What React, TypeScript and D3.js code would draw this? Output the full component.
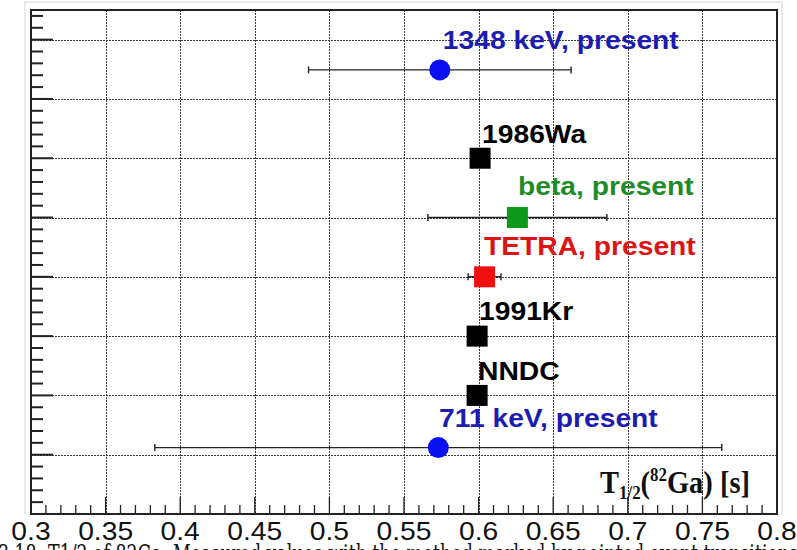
import React from "react";
import * as d3 from "d3";

// ---- data ----
const labels = ["1348 keV, present", "1986Wa", "beta, present", "TETRA, present", "1991Kr", "NNDC", "711 keV, present"];
const halfLives = [0.574, 0.601, 0.626, 0.604, 0.599, 0.599, 0.573];
const halfLifeErrors = [0.088, 0, 0.06, 0.011, 0, 0, 0.19];
const rowPositions = [7.49, 6, 5, 4, 3, 2, 1.12];
const markerKinds = ["circle", "square", "square", "square", "square", "square", "circle"];
const labelAnchorX = [0.576, 0.6023, 0.6264, 0.6036, 0.6003, 0.5996, 0.5735];
const labelAnchorY = [7.84, 6.26, 5.38, 4.37, 3.27, 2.26, 1.47];
const xTickLabels = ["0.3", "0.35", "0.4", "0.45", "0.5", "0.55", "0.6", "0.65", "0.7", "0.75", "0.8"];
const yMajorTicks = [0, 1, 2, 3, 4, 5, 6, 7, 8];
const caption = "3.18:  T1/2 of 82Ga.  Measured values with the method marked by pointed event transitions";

// ---- styles ----
const markerColors = ["#0a10f0", "#000000", "#0c9a18", "#f01010", "#000000", "#000000", "#0a10f0"];
const textColors = ["#1c1cb0", "#000000", "#1f8c2a", "#dc1414", "#000000", "#000000", "#1c1cb0"];

const W = 797;
const H = 550;
const left = 31, right = 777, top = 10, bottom = 514;

export default function App() {
  const x = d3.scaleLinear().domain([0.3, 0.8]).range([left, right]);
  const y = d3.scaleLinear().domain([0, 8.5]).range([bottom, top]);

  const xMajor = xTickLabels.map((t) => +t);
  const xMinor = d3.range(30, 81).map((v) => v / 100).filter((v) => Math.round(v * 100) % 5 !== 0);
  const yMinor = d3.range(0, 43).map((v) => v / 5).filter((v) => Math.round(v * 5) % 5 !== 0 && v < 8.5);

  const sx = 1.13;
  const sq = 21;
  const px = (v: number) => Math.round(v) + 0.5;

  return (
    <svg width={W} height={H} style={{ position: "absolute", left: 0, top: 0, background: "#fff" }}>
      <rect x={0} y={0} width={W} height={H} fill="#fff" />
      {/* faint outer canvas border */}
      <path d={`M25,${bottom} V2 H782 V${bottom}`} fill="none" stroke="#e4e4e4" strokeWidth={1.5} />

      {/* grid */}
      <g stroke="#3a3a3a" strokeWidth={1.2} strokeDasharray="1.5 1.5" shapeRendering="crispEdges">
        {xMajor.filter((v) => v > 0.3 && v < 0.8).map((v, i) => (
          <line key={"gx" + i} x1={px(x(v))} x2={px(x(v))} y1={top} y2={bottom} />
        ))}
        {yMajorTicks.filter((v) => v > 0).map((v, i) => (
          <line key={"gy" + i} x1={left} x2={right} y1={px(y(v))} y2={px(y(v))} />
        ))}
      </g>

      {/* ticks */}
      <g stroke="#222" strokeWidth={1.3}>
        {xMajor.map((v, i) => (
          <line key={"xt" + i} x1={x(v)} x2={x(v)} y1={bottom} y2={bottom - 17} />
        ))}
        {xMinor.map((v, i) => (
          <line key={"xm" + i} x1={x(v)} x2={x(v)} y1={bottom} y2={bottom - 9} />
        ))}
      </g>
      <g stroke="#222" strokeWidth={2}>
        {yMajorTicks.map((v, i) => (
          <line key={"yt" + i} x1={left} x2={left + 22} y1={y(v)} y2={y(v)} />
        ))}
        {yMinor.map((v, i) => (
          <line key={"ym" + i} x1={left} x2={left + 12} y1={y(v)} y2={y(v)} />
        ))}
      </g>

      {/* frame */}
      <rect x={left} y={top} width={right - left} height={bottom - top} fill="none" stroke="#222" strokeWidth={2} />

      {/* error bars */}
      <g stroke="#222" strokeWidth={1.4}>
        {halfLives.map((v, i) =>
          halfLifeErrors[i] > 0 ? (
            <g key={"e" + i}>
              <line x1={x(v - halfLifeErrors[i])} x2={x(v + halfLifeErrors[i])} y1={y(rowPositions[i])} y2={y(rowPositions[i])} />
              <line x1={x(v - halfLifeErrors[i])} x2={x(v - halfLifeErrors[i])} y1={y(rowPositions[i]) - 3.5} y2={y(rowPositions[i]) + 3.5} />
              <line x1={x(v + halfLifeErrors[i])} x2={x(v + halfLifeErrors[i])} y1={y(rowPositions[i]) - 3.5} y2={y(rowPositions[i]) + 3.5} />
            </g>
          ) : null
        )}
      </g>

      {/* markers */}
      {halfLives.map((v, i) =>
        markerKinds[i] === "circle" ? (
          <circle key={"m" + i} cx={x(v)} cy={y(rowPositions[i])} r={10.5} fill={markerColors[i]} />
        ) : (
          <rect key={"m" + i} x={x(v) - sq / 2} y={y(rowPositions[i]) - sq / 2} width={sq} height={sq} fill={markerColors[i]} />
        )
      )}

      {/* point labels */}
      {labels.map((t, i) => (
        <text
          key={"l" + i}
          transform={`translate(${x(labelAnchorX[i])},${y(labelAnchorY[i])}) scale(${sx},1)`}
          fontFamily="'Liberation Sans', Arial, sans-serif"
          fontWeight="bold"
          fontSize={25}
          fill={textColors[i]}
        >
          {t}
        </text>
      ))}

      {/* x tick labels */}
      {xTickLabels.map((t, i) => (
        <text
          key={"xl" + i}
          transform={`translate(${x(xMajor[i])},540) scale(${sx},1)`}
          textAnchor="middle"
          fontFamily="'Liberation Sans', Arial, sans-serif"
          fontSize={25}
          fill="#111"
        >
          {t}
        </text>
      ))}

      {/* axis title */}
      <text
        x={600}
        y={493}
        fontFamily="'Liberation Serif', 'Times New Roman', serif"
        fontWeight="bold"
        fontSize={32}
        fill="#111"
        textLength={150}
        lengthAdjust="spacingAndGlyphs"
      >
        T<tspan fontSize={19} dy={6}>1/2</tspan>
        <tspan dy={-6}>(</tspan>
        <tspan fontSize={19} dy={-12}>82</tspan>
        <tspan dy={12}>Ga) [s]</tspan>
      </text>

      {/* caption (cut off at bottom of picture) */}
      <text
        x={-2}
        y={563}
        fontFamily="'DejaVu Serif', 'Liberation Serif', serif"
        fontSize={26}
        fill="#111"
        textLength={800}
        lengthAdjust="spacingAndGlyphs"
      >
        {caption}
      </text>
    </svg>
  );
}
